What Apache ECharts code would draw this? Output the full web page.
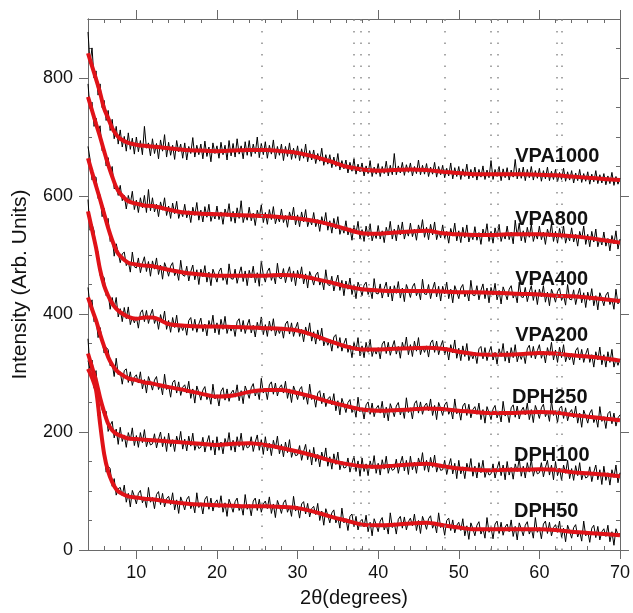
<!DOCTYPE html>
<html><head><meta charset="utf-8">
<script src="https://cdn.jsdelivr.net/npm/echarts@6/dist/echarts.min.js"></script>
<style>html,body{margin:0;padding:0;background:#fff}#c{width:633px;height:613px}</style>
</head><body><div id="c"></div>
<script>
// ---- data ----
const seriesNames = ['VPA1000','VPA800','VPA400','VPA200','DPH250','DPH100','DPH50'];

// fitted (red) curves, sampled at fitX
const fitX = [4,4.5,5,5.5,6,6.5,7,7.5,8,9,10,11,12,14,16,18,20,22,24,26,28,30,32,34,36,38,40,42,44,46,48,50,52,54,56,58,60,62,64,66,68,70];
const fitVPA1000 = [842,820,798,775,748,732,715,704,697,690,687,685,684,681,678,677,676,677,678,678,676,673,667,659,650,645,643,644,645,644,641,639,637,637,637,637,636,635,633,631,629,627];
const fitVPA800  = [768,745,722,700,676,653,633,615,604,591,587,584,583,577,572,570,569,568,567,566,564,562,558,552,544,537,536,538,540,541,537,535,534,534,535,535,535,534,532,529,525,521];
const fitVPA400  = [664,640,617,594,570,546,525,508,498,487,484,482,481,475,470,467,465,465,465,465,466,465,460,454,447,442,440,439,439,439,438,437,437,436,435,434,433,431,430,428,425,422];
const fitVPA200  = [574,543,512,475,448,431,418,409,403,395,392,394,394,383,380,379,379,378,377,376,375,372,364,354,345,340,340,341,342,343,341,336,332,331,331,332,334,333,330,328,325,321];
const fitDPH250  = [428,408,389,366,345,327,314,305,299,291,288,284,282,276,271,265,260,262,268,271,271,266,259,251,244,238,236,237,238,240,239,236,234,232,232,233,234,233,229,226,223,220];
const fitDPH100  = [333,310,287,258,234,214,203,197,194,189,188,187,186,184,182,180,178,180,181,178,173,167,160,152,146,142,141,143,145,146,142,138,136,135,136,136,137,136,132,130,128,125];
const fitDPH50   = [307,292,271,214,163,133,115,103,97,91,89,87,86,82,79,77,76,75,74,74,73,71,65,57,50,43,42,43,45,46,42,38,35,35,35,35,35,34,31,29,27,25];

// measured (black) patterns, one value every rawStep degrees from rawStart (rows = 2 degrees)
const rawStart = 4, rawStep = 0.25;
const rawVPA1000 = [
878,825,851,800,812,771,790,750,
762,728,745,711,730,697,718,688,
712,683,701,676,707,679,698,671,
700,675,694,670,718,681,690,668,
697,672,689,663,695,676,704,666,
691,669,686,662,694,675,688,664,
690,661,684,672,699,666,686,670,
688,663,693,667,683,658,690,672,
685,664,691,670,686,661,694,668,
689,666,697,671,685,663,692,669,
694,667,688,672,700,665,689,670,
692,664,686,671,695,663,684,669,
688,660,684,667,690,662,681,664,
685,660,680,664,688,658,677,661,
678,655,672,659,681,652,670,654,
670,648,666,650,672,644,660,646,
661,639,657,642,663,637,654,641,
656,634,651,638,660,633,649,637,
655,633,650,638,659,634,652,636,
672,636,651,639,657,635,653,640,
656,634,650,638,661,636,652,637,
655,633,649,637,657,632,650,636,
652,631,647,634,656,629,648,633,
650,628,646,633,654,629,645,631,
649,627,645,632,651,628,644,631,
660,628,645,633,650,626,646,631,
648,627,644,632,662,629,647,630,
649,626,645,631,650,627,643,630,
647,625,643,629,649,626,642,628,
645,624,640,628,647,625,641,627,
643,622,639,626,645,623,638,625,
641,620,637,624,643,621,636,622,
638,619,634,621,640,618,633,620,
630];
const rawVPA800 = [
790,748,759,718,732,708,719,677,
682,651,665,638,650,612,617,601,
618,592,601,578,601,587,608,577,
593,572,597,580,601,572,611,575,
597,573,586,565,590,576,597,567,
583,562,588,570,591,562,575,565,
586,563,575,555,581,567,589,559,
576,556,582,564,586,557,571,561,
583,560,573,552,578,565,587,557,
574,554,580,562,592,555,569,559,
581,558,571,550,576,563,585,555,
572,552,577,560,582,553,566,556,
578,555,567,547,573,560,581,551,
568,548,573,556,577,548,561,551,
572,548,560,540,565,551,572,542,
558,537,562,544,565,535,548,537,
558,534,546,525,550,536,557,527,
543,523,549,531,553,524,538,528,
550,527,541,521,547,534,557,527,
544,524,551,534,556,527,542,532,
554,531,544,525,551,538,560,530,
547,526,552,534,556,526,540,529,
551,528,540,520,545,532,554,524,
541,521,547,529,551,522,536,526,
548,525,538,518,544,531,553,523,
540,520,546,530,552,523,537,527,
549,526,539,519,559,532,554,524,
541,521,547,530,552,523,537,527,
549,526,539,518,544,531,553,523,
540,520,545,528,549,520,534,524,
546,522,535,515,540,527,549,518,
535,514,540,522,544,514,528,517,
539,515,528,507,533,519,541,510,
527];
const rawVPA400 = [
684,663,627,632,632,596,602,565,
579,554,562,523,530,498,519,504,
487,502,505,482,489,471,505,480,
478,495,470,486,497,472,489,464,
490,476,495,467,483,459,487,477,
464,481,487,465,474,457,491,466,
464,481,456,472,483,458,475,450,
476,463,482,454,471,448,476,466,
454,472,478,457,467,450,485,460,
459,476,452,468,480,455,473,448,
474,461,481,453,470,447,490,466,
454,472,478,457,468,451,486,461,
460,477,453,469,480,455,473,448,
474,460,480,451,468,444,472,462,
449,466,471,449,459,441,475,450,
448,464,439,454,466,440,457,431,
456,442,461,433,449,426,454,444,
431,449,454,433,443,426,460,435,
434,451,427,443,454,429,447,422,
448,435,455,427,444,421,450,440,
428,446,452,431,441,424,459,434,
433,450,426,442,454,429,447,422,
447,434,454,426,442,419,448,438,
426,444,450,429,439,422,457,432,
431,448,424,440,451,426,444,419,
445,432,452,424,440,417,446,436,
424,442,448,427,436,419,454,429,
428,445,421,437,448,423,441,416,
442,429,448,420,437,414,442,432,
420,438,444,423,432,415,450,425,
424,441,416,432,444,419,436,411,
437,423,443,414,431,407,436,426,
414,432,437,416,425,408,442,417,
426];
const rawVPA200 = [
594,542,552,541,505,506,465,465,
462,431,435,408,428,410,428,395,
409,387,411,392,412,382,395,385,
395,376,402,407,387,406,384,398,
408,384,395,374,399,385,405,374,
389,369,394,377,398,369,382,372,
383,364,389,394,372,391,369,383,
393,370,383,363,389,376,398,368,
385,365,391,374,396,367,381,371,
381,362,387,392,370,389,367,381,
391,368,381,361,386,373,395,365,
382,362,388,371,392,363,377,367,
378,359,383,388,366,385,362,376,
386,362,374,353,378,364,385,354,
370,349,373,355,376,346,358,347,
357,337,361,365,342,360,337,350,
359,335,347,326,352,338,360,329,
346,326,352,335,357,328,342,332,
343,324,349,354,333,352,330,344,
355,332,345,325,352,339,361,331,
348,328,354,337,360,331,345,335,
346,327,351,356,335,354,331,345,
355,331,343,322,348,334,356,325,
342,321,346,328,350,321,334,324,
335,316,341,345,324,343,321,335,
345,322,335,315,341,328,350,320,
337,317,343,326,348,319,333,323,
335,316,341,347,326,345,324,338,
348,325,337,317,343,330,352,322,
339,318,344,326,348,319,332,322,
333,314,338,343,322,340,318,332,
342,318,331,310,336,322,344,314,
331,310,336,318,340,310,324,313,
324];
const rawDPH250 = [
445,414,424,387,394,360,377,356,
334,343,340,312,316,294,325,297,
302,281,304,307,284,302,279,293,
297,283,302,273,289,266,294,284,
271,288,294,272,281,263,298,272,
279,259,284,288,266,285,262,276,
280,266,286,257,273,249,278,267,
254,271,277,255,264,247,281,256,
263,244,269,275,254,273,252,266,
271,259,280,253,270,248,278,268,
257,275,282,261,272,255,291,266,
274,255,280,285,264,283,261,275,
280,266,286,257,273,250,278,268,
255,272,277,255,265,247,281,255,
262,242,266,270,248,266,243,256,
260,246,265,236,253,229,257,246,
233,250,255,233,243,225,259,234,
241,222,246,251,230,249,226,240,
245,232,252,224,242,219,248,238,
226,244,250,229,240,223,258,233,
241,222,248,253,232,251,230,244,
249,236,256,228,245,221,250,240,
228,246,251,230,239,222,256,231,
239,220,244,249,228,247,224,238,
243,230,249,221,238,215,243,233,
221,239,245,224,234,217,252,227,
235,216,241,246,225,244,222,236,
242,229,249,221,238,216,245,235,
223,241,247,226,235,218,253,228,
236,216,240,244,223,241,219,233,
238,224,244,215,232,208,237,227,
215,232,238,216,226,208,243,218,
226,206,231,235,214,232,210,224,
229];
const rawDPH100 = [
358,308,322,294,304,261,260,238,
228,235,201,211,218,190,205,179,
208,184,195,174,199,186,207,177,
194,174,199,182,204,175,188,178,
180,197,173,188,200,175,192,167,
198,175,187,167,193,180,201,171,
188,168,193,176,198,169,182,172,
174,191,166,182,194,169,186,161,
192,169,183,163,189,176,199,169,
186,166,192,175,198,169,183,173,
175,192,167,183,195,169,187,162,
192,168,181,160,186,172,193,163,
179,158,183,165,187,157,170,160,
161,177,152,167,179,153,170,144,
174,150,162,141,166,152,173,142,
158,137,163,145,166,136,150,139,
140,156,132,147,159,133,151,125,
156,133,146,126,151,138,160,130,
147,127,153,137,159,130,144,135,
137,154,130,147,159,134,152,128,
159,136,149,130,156,143,165,135,
152,132,157,140,161,132,145,135,
136,152,128,143,155,129,147,121,
152,129,141,121,147,134,155,125,
142,122,148,131,152,123,137,127,
129,146,122,138,150,126,144,119,
150,127,140,120,146,133,155,125,
142,122,148,132,154,125,139,129,
131,148,124,140,152,127,144,119,
150,126,139,118,144,130,152,121,
138,118,143,126,148,119,132,122,
124,141,116,132,144,119,136,111,
142,118,131,110,136,123,144,114,
131];
const rawDPH50 = [
321,307,305,274,273,228,234,184,
166,132,142,138,108,121,93,104,
106,92,110,81,96,73,101,91,
78,96,101,80,89,72,106,81,
89,70,94,99,77,96,73,87,
91,77,97,68,85,62,90,80,
68,86,91,70,80,63,97,72,
80,61,86,91,69,88,66,80,
85,72,92,64,80,57,86,76,
64,82,88,67,76,59,94,69,
77,58,83,88,67,86,64,78,
83,70,90,62,78,55,84,74,
62,80,85,64,74,57,91,66,
74,54,78,82,61,79,56,70,
74,60,79,50,66,42,70,59,
46,63,68,46,55,37,71,46,
53,33,57,61,39,57,34,48,
52,39,59,31,47,24,53,43,
31,49,55,34,44,27,63,38,
46,27,52,57,37,56,34,48,
54,41,61,33,50,28,57,47,
35,53,58,37,46,29,63,38,
45,25,50,54,33,51,29,42,
47,33,53,24,41,18,46,36,
24,42,48,27,37,20,55,30,
38,19,44,49,28,47,25,39,
44,31,51,23,40,17,46,36,
24,42,48,27,37,20,55,30,
38,19,44,49,28,47,24,38,
43,30,49,21,37,14,42,32,
20,38,43,22,32,15,49,24,
32,13,37,42,21,40,17,31,
36,23,42,14,31,8,36,26,
28];

// sample-name labels (data coordinates)
const labelX = [57, 57, 57, 57, 56.6, 56.85, 56.85];
const labelY = [667, 560, 459, 363, 259, 161, 65];

// reference peak positions (dotted vertical lines)
const refLines = [25.5, 37.0, 37.9, 38.8, 48.3, 54.0, 54.8, 62.2, 62.8];

// ticks
const xMajor = [10,20,30,40,50,60,70];
const xMinor = [6,8,12,14,16,18,22,24,26,28,32,34,36,38,42,44,46,48,52,54,56,58,62,64,66,68];
const yMajor = [0,200,400,600,800];
const yMinor = [50,100,150,250,300,350,450,500,550,650,700,750,850];

// ---- chart ----
const fitList = [fitVPA1000, fitVPA800, fitVPA400, fitVPA200, fitDPH250, fitDPH100, fitDPH50];
const rawList = [rawVPA1000, rawVPA800, rawVPA400, rawVPA200, rawDPH250, rawDPH100, rawDPH50];

const font = "'Liberation Sans', Arial, Helvetica, sans-serif";
const frame = '#6a6a6a';
const txt = '#111';

function xAx(pos, ticks, inside, len, labels) {
  const a = {
    type: 'value', min: 4, max: 70, position: pos, gridIndex: 0,
    axisLine: { show: true, onZero: false, lineStyle: { color: frame, width: 1 } },
    axisTick: { show: true, customValues: ticks, inside: inside, length: len, lineStyle: { color: frame, width: 1 } },
    axisLabel: { show: false },
    splitLine: { show: false }, minorTick: { show: false }
  };
  if (labels) {
    a.axisLabel = { show: true, customValues: xMajor, fontFamily: font, fontSize: 18, color: txt, margin: 14 };
    a.name = '2\u03b8(degrees)';
    a.nameLocation = 'middle';
    a.nameGap = 38;
    a.nameTextStyle = { fontFamily: font, fontSize: 20, color: txt };
  }
  return a;
}
function yAx(pos, ticks, inside, len, labels) {
  const a = {
    type: 'value', min: 0, max: 900, position: pos, gridIndex: 0,
    axisLine: { show: true, onZero: false, lineStyle: { color: frame, width: 1 } },
    axisTick: { show: true, customValues: ticks, inside: inside, length: len, lineStyle: { color: frame, width: 1 } },
    axisLabel: { show: false },
    splitLine: { show: false }, minorTick: { show: false }
  };
  if (labels) {
    a.axisLabel = { show: true, customValues: yMajor, fontFamily: font, fontSize: 18, color: txt, margin: 15 };
    a.name = 'Intensity (Arb. Units)';
    a.nameLocation = 'middle';
    a.nameGap = 57;
    a.nameRotate = 90;
    a.nameTextStyle = { fontFamily: font, fontSize: 21, color: txt };
  }
  return a;
}

const series = [];
series.push({
  type: 'line', data: [], xAxisIndex: 0, yAxisIndex: 0, z: 1, silent: true,
  markLine: {
    silent: true, symbol: ['none', 'none'], animation: false,
    label: { show: false },
    lineStyle: { type: [1.5, 10], color: '#8c8c8c', width: 1.5 },
    data: refLines.map(v => ({ xAxis: v }))
  }
});
rawList.forEach((arr, i) => {
  series.push({
    name: seriesNames[i] + ' data', type: 'line', xAxisIndex: 0, yAxisIndex: 0,
    data: arr.map((v, k) => [rawStart + k * rawStep, v]),
    symbol: 'none', z: 2, silent: true,
    lineStyle: { color: '#000', width: 1 }
  });
});
fitList.forEach((arr, i) => {
  series.push({
    name: seriesNames[i], type: 'line', xAxisIndex: 0, yAxisIndex: 0,
    data: arr.map((v, k) => [fitX[k], v]),
    symbol: 'none', smooth: 0.3, z: 3, silent: true,
    lineStyle: { color: '#e01218', width: 4 },
    markPoint: {
      symbol: 'circle', symbolSize: 0, silent: true, animation: false,
      data: [{ coord: [labelX[i], labelY[i]], name: seriesNames[i] }],
      label: { show: true, position: 'right', distance: 0, formatter: seriesNames[i],
        fontFamily: font, fontWeight: 'bold', fontSize: 20, color: '#111' }
    }
  });
});

const chart = echarts.init(document.getElementById('c'), null, { renderer: 'canvas' });
chart.setOption({
  animation: false,
  backgroundColor: '#fff',
  grid: { left: 88, right: 11, top: 19, bottom: 62, containLabel: false },
  xAxis: [
    xAx('bottom', xMajor, false, 9, true),
    xAx('bottom', xMinor, true, 4, false),
    xAx('top', xMajor, false, 9, false),
    xAx('top', xMinor, true, 4, false)
  ],
  yAxis: [
    yAx('left', yMajor, false, 9, true),
    yAx('left', yMinor, true, 4, false),
    yAx('right', yMajor, false, 9, false),
    yAx('right', yMinor, true, 4, false)
  ],
  series: series
});
</script>
</body></html>
